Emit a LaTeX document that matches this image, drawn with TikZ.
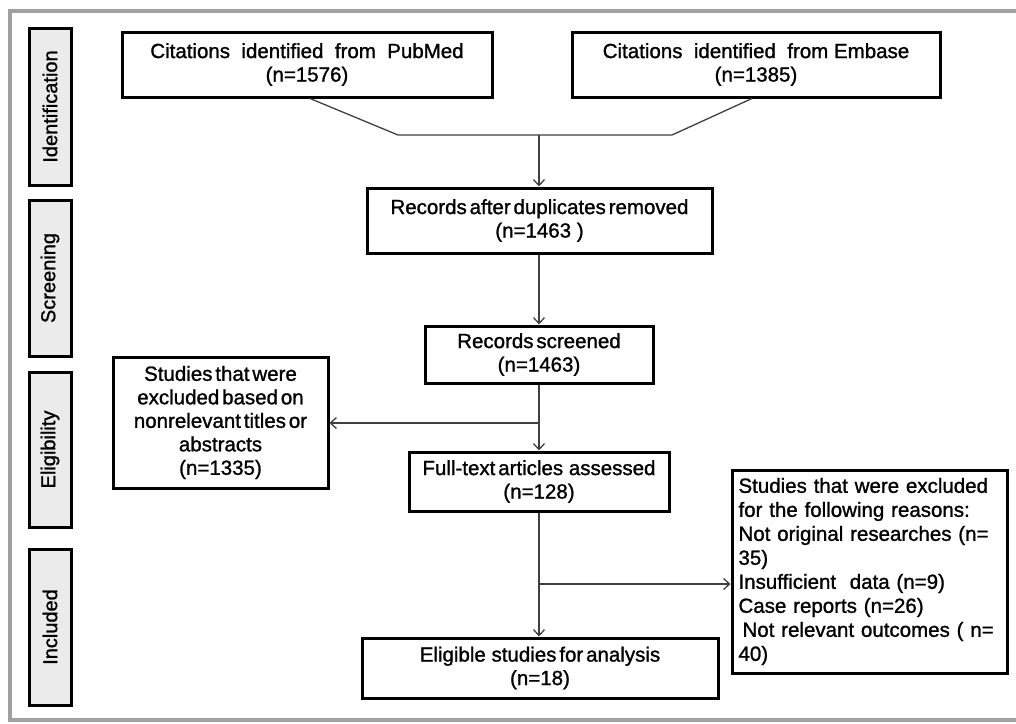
\documentclass[tikz,border=0pt]{standalone}
\usepackage{fontspec}
\setmainfont{Liberation Sans}[FakeBold=1.2]
\usetikzlibrary{arrows.meta,calc}
\definecolor{framegray}{HTML}{A0A0A0}
\definecolor{stagefill}{HTML}{EBEBEB}
\definecolor{linegray}{HTML}{404040}
\newcommand{\tightsp}{\spaceskip=0.14em plus 0.05em minus 0.03em\relax}
\tikzset{
  box/.style={draw=black, line width=3pt, fill=white, inner sep=0pt, align=center,
    font=\fontsize{20.5}{23.5}\selectfont},
  stage/.style={draw=black, line width=3pt, fill=stagefill, inner sep=0pt,
    minimum width=42pt, font=\fontsize{20}{24}\selectfont},
  conn/.style={draw=linegray, line width=1.3pt},
  arr/.style={conn, -{Straight Barb[length=6pt,width=11pt]}},
}
\begin{document}
\begin{tikzpicture}[x=1pt,y=-1pt]
\useasboundingbox (0,0) rectangle (1016,723);
% outer frame
\draw[framegray, line width=3.5pt] (1030,11) -- (10,11) -- (10,720) -- (1030,720);

% stage labels
\node[stage, minimum height=157pt] (sid) at (50,106.5) {\rotatebox{90}{Identification}};
\node[stage, minimum height=156pt] (ssc) at (50,278) {\rotatebox{90}{Screening}};
\node[stage, minimum height=155pt] (sel) at (50,449.5) {\rotatebox{90}{Eligibility}};
\node[stage, minimum height=156pt] (sin) at (50,627) {\rotatebox{90}{Included}};

% boxes
\node[box, minimum width=370pt, minimum height=65pt] (pub) at (307,64.5)
  {Citations~ identified~ from~ PubMed\\(n=1576)};
\node[box, minimum width=368pt, minimum height=65pt] (emb) at (756,64.5)
  {Citations~ identified~ from Embase\\(n=1385)};
\node[box, minimum width=345pt, minimum height=65pt] (dup) at (539.5,220.5)
  {\tightsp Records after duplicates removed\\(n=1463 )};
\node[box, minimum width=228pt, minimum height=57pt] (scr) at (539,354.5)
  {\tightsp Records screened\\(n=1463)};
\node[box, minimum width=215pt, minimum height=131pt] (exl) at (220.5,422.5)
  {\tightsp Studies that were\\\tightsp excluded based on\\\tightsp nonrelevant titles or\\abstracts\\(n=1335)};
\node[box, minimum width=260pt, minimum height=59pt] (ft) at (539,481.5)
  {\tightsp Full-text articles\ ~assessed\\(n=128)};
\node[box, minimum width=356pt, minimum height=60pt] (elig) at (540,668)
  {\tightsp Eligible\ ~studies for analysis\\(n=18)};
\node[box, minimum width=275pt, minimum height=203pt, align=left, text width=262pt,
  font=\fontsize{20.5}{24}\selectfont\tightsp] (exr) at (869.5,571.5)
  {Studies that were excluded\\for the following reasons:\\Not original researches (n=\\35)\\Insufficient\ ~data (n=9)\\Case reports (n=26)\\\hspace*{4pt}Not relevant outcomes ( n=\\40)};

% connectors
\coordinate (jl) at (398,135);
\coordinate (jr) at (672,135);
\coordinate (jm) at (539,135);
\coordinate (b1) at (539,423);
\coordinate (b2) at (539,584);
\draw[conn] ($(pub.south)+(3,0)$) -- (jl) -- (jr) -- ($(emb.south)+(-4,0)$);
\draw[arr] (jm) -- (jm |- dup.north);
\draw[arr] (dup.south -| jm) -- (jm |- scr.north);
\draw[arr] (scr.south -| jm) -- (jm |- ft.north);
\draw[arr] (b1) -- (exl.east |- b1);
\draw[arr] (ft.south -| jm) -- (jm |- elig.north);
\draw[arr] (b2) -- (exr.west |- b2);
\end{tikzpicture}
\end{document}
